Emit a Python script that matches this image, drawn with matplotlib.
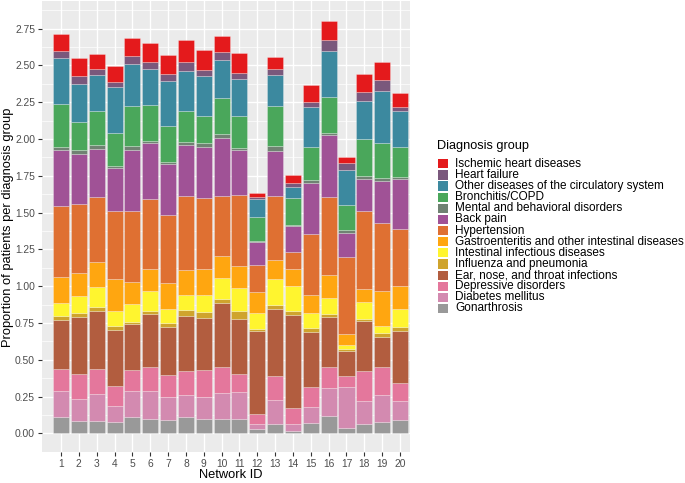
import matplotlib
matplotlib.use("Agg")
import matplotlib.pyplot as plt
from matplotlib.patches import Rectangle
import numpy as np

plt.rcParams['font.family'] = ['Liberation Sans', 'DejaVu Sans']

networks = [str(i) for i in range(1, 21)]

# legend order (top of stack first)
groups = [
    "Ischemic heart diseases",
    "Heart failure",
    "Other diseases of the circulatory system",
    "Bronchitis/COPD",
    "Mental and behavioral disorders",
    "Back pain",
    "Hypertension",
    "Gastroenteritis and other intestinal diseases",
    "Intestinal infectious diseases",
    "Influenza and pneumonia",
    "Ear, nose, and throat infections",
    "Depressive disorders",
    "Diabetes mellitus",
    "Gonarthrosis",
]
colors = ["#E41A1C", "#7A587C", "#3C899F", "#4AA75B", "#708273", "#A05296",
          "#DF7032", "#FFA610", "#FFF52F", "#CFA42D", "#B25D3F", "#E4779C",
          "#D38AB0", "#999999"]

# values per network, one list per diagnosis group
ischemic = [0.111, 0.122, 0.104, 0.111, 0.120, 0.124, 0.127, 0.147, 0.136, 0.106,
            0.136, 0.024, 0.086, 0.059, 0.111, 0.127, 0.041, 0.120, 0.123, 0.093]
heart_failure = [0.052, 0.053, 0.036, 0.036, 0.054, 0.050, 0.045, 0.063, 0.040, 0.059,
                 0.041, 0.012, 0.041, 0.022, 0.034, 0.075, 0.043, 0.063, 0.072, 0.027]
other_circ = [0.311, 0.258, 0.247, 0.308, 0.285, 0.244, 0.308, 0.272, 0.270, 0.256,
              0.252, 0.122, 0.208, 0.075, 0.272, 0.314, 0.242, 0.261, 0.353, 0.243]
bronchitis = [0.292, 0.194, 0.231, 0.225, 0.272, 0.243, 0.242, 0.209, 0.188, 0.244,
              0.212, 0.165, 0.272, 0.188, 0.224, 0.240, 0.168, 0.247, 0.240, 0.206]
mental = [0.018, 0.023, 0.025, 0.013, 0.025, 0.018, 0.014, 0.024, 0.025, 0.028,
          0.014, 0.007, 0.032, 0.007, 0.025, 0.016, 0.020, 0.024, 0.023, 0.011]
back_pain = [0.380, 0.344, 0.328, 0.292, 0.419, 0.378, 0.349, 0.342, 0.346, 0.394,
             0.306, 0.156, 0.305, 0.172, 0.344, 0.421, 0.163, 0.216, 0.281, 0.342]
hypertension = [0.487, 0.465, 0.442, 0.467, 0.478, 0.476, 0.464, 0.505, 0.485, 0.407,
                0.484, 0.184, 0.437, 0.115, 0.414, 0.528, 0.521, 0.527, 0.462, 0.385]
gastro = [0.172, 0.158, 0.168, 0.213, 0.151, 0.147, 0.172, 0.168, 0.174, 0.150,
          0.150, 0.145, 0.130, 0.116, 0.125, 0.156, 0.075, 0.093, 0.238, 0.161]
intestinal = [0.091, 0.118, 0.140, 0.104, 0.123, 0.136, 0.095, 0.104, 0.118, 0.145,
              0.156, 0.108, 0.178, 0.174, 0.097, 0.111, 0.029, 0.113, 0.052, 0.117]
influenza = [0.027, 0.022, 0.025, 0.027, 0.013, 0.020, 0.030, 0.039, 0.036, 0.022,
             0.057, 0.014, 0.023, 0.023, 0.027, 0.018, 0.011, 0.016, 0.027, 0.028]
ent = [0.335, 0.390, 0.396, 0.380, 0.313, 0.365, 0.328, 0.373, 0.356, 0.440,
       0.371, 0.559, 0.458, 0.634, 0.374, 0.345, 0.170, 0.338, 0.199, 0.357]
depressive = [0.150, 0.167, 0.168, 0.134, 0.145, 0.163, 0.147, 0.163, 0.181, 0.172,
              0.120, 0.068, 0.163, 0.109, 0.140, 0.138, 0.075, 0.201, 0.193, 0.123]
diabetes = [0.172, 0.150, 0.181, 0.109, 0.176, 0.188, 0.156, 0.152, 0.152, 0.176,
            0.186, 0.039, 0.163, 0.045, 0.105, 0.190, 0.283, 0.159, 0.185, 0.129]
gonarthrosis = [0.113, 0.086, 0.086, 0.079, 0.109, 0.097, 0.091, 0.111, 0.097, 0.100,
                0.097, 0.027, 0.063, 0.018, 0.072, 0.120, 0.034, 0.063, 0.075, 0.088]

series = [ischemic, heart_failure, other_circ, bronchitis, mental, back_pain,
          hypertension, gastro, intestinal, influenza, ent, depressive,
          diabetes, gonarthrosis]

yticks = [0.00, 0.25, 0.50, 0.75, 1.00, 1.25, 1.50, 1.75, 2.00, 2.25, 2.50, 2.75]

W, H = 685, 483
fig = plt.figure(figsize=(W / 100, H / 100), dpi=100)
# panel in pixels: x 42..410, y 1..452
ax = fig.add_axes([42 / W, (H - 452) / H, 368 / W, 451 / H])
ax.set_facecolor("#EBEBEB")

x = np.arange(1, 21)
bottom = np.zeros(20)
for name, col, vals in zip(groups[::-1], colors[::-1], series[::-1]):
    v = np.array(vals)
    ax.bar(x, v, width=0.9, bottom=bottom, color=col,
           edgecolor=(1, 1, 1, 0.45), linewidth=0.4, zorder=3)
    bottom += v

ax.set_xlim(-0.065, 20.56)
ax.set_ylim(-0.127, 2.937)
ax.set_xticks(x)
ax.set_xticklabels(networks)
ax.set_yticks(yticks)
ax.set_yticklabels([f"{t:.2f}" for t in yticks])
ax.set_yticks(np.arange(0.125, 2.9, 0.25), minor=True)
ax.grid(True, which="major", color="white", linewidth=1.0, zorder=0)
ax.grid(True, which="minor", axis="y", color="white", linewidth=0.5, zorder=0)
for s in ax.spines.values():
    s.set_visible(False)
ax.tick_params(axis="both", which="major", length=3, width=0.8, color="#333333",
               labelsize=7.4, labelcolor="#4D4D4D", pad=2)
ax.tick_params(axis="both", which="minor", length=0)
ax.set_axisbelow(True)

fig.text(231 / W, (H - 474.5) / H, "Network ID", ha="center", va="center",
         fontsize=9.3, color="black")
fig.text(8 / W, (H - 227) / H, "Proportion of patients per diagnosis group",
         ha="center", va="center", rotation=90, fontsize=9.3, color="black")

# legend
fig.text(437 / W, (H - 146.5) / H, "Diagnosis group", ha="left", va="center",
         fontsize=9.2, color="black")
y0 = 163.8
dy = 11.13
for i, (name, col) in enumerate(zip(groups, colors)):
    yc = y0 + i * dy
    fig.add_artist(Rectangle((438.3 / W, (H - yc - 4.6) / H), 9.2 / W, 9.2 / H,
                             transform=fig.transFigure, facecolor=col,
                             edgecolor="none"))
    fig.text(455 / W, (H - yc) / H, name, ha="left", va="center",
             fontsize=8.5, color="black")

fig.savefig("out.png", dpi=100)
